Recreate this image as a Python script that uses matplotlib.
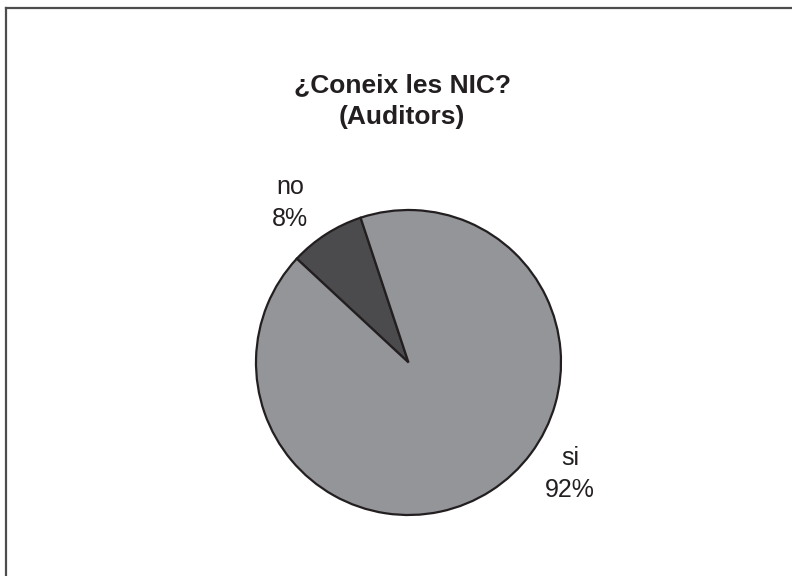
import matplotlib
matplotlib.use("Agg")
import matplotlib.pyplot as plt
from matplotlib.lines import Line2D

plt.rcParams['font.family'] = ['Liberation Sans', 'DejaVu Sans']

# data
labels = ["no", "si"]
values = [8, 92]
colors = ["#4b4b4d", "#939598"]
title = "¿Coneix les NIC?\n(Auditors)"

W, H = 792, 576
fig = plt.figure(figsize=(W / 100, H / 100), dpi=100)

# pie axes: centre (408.5, 362.5) px, radius 152.5 px
cx, cy, r = 408.5, 362.5, 152.5
ax = fig.add_axes([(cx - r) / W, (H - cy - r) / H, 2 * r / W, 2 * r / H])
wedges, _ = ax.pie(values, colors=colors, startangle=108.3, counterclock=True,
                   wedgeprops={'edgecolor': '#231f20', 'linewidth': 1.6},
                   radius=1.0)
ax.set_xlim(-1, 1)
ax.set_ylim(-1, 1)
ax.set_aspect('equal')
ax.axis('off')

# labels (figure pixel positions of label centres)
label_pos = {"no": (290, 203), "si": (570, 474)}
for lab, v in zip(labels, values):
    x, y = label_pos[lab]
    fig.text(x / W, 1 - y / H, "%s\n%d%%" % (lab, v), ha='center', va='center',
             multialignment='center', fontsize=18, color='#231f20', linespacing=1.4)

fig.text(402 / W, 1 - 101 / H, title, ha='center', va='center', multialignment='center',
         fontsize=19, fontweight='bold', color='#231f20', linespacing=1.45)

# border: only top and left visible
fig.add_artist(Line2D([5.8 / W, 1], [1 - 7.8 / H, 1 - 7.8 / H], transform=fig.transFigure,
                      color='#4d4d4d', linewidth=1.6))
fig.add_artist(Line2D([5.8 / W, 5.8 / W], [0, 1 - 7.8 / H], transform=fig.transFigure,
                      color='#4d4d4d', linewidth=1.6))

fig.savefig("out.png", dpi=100)
